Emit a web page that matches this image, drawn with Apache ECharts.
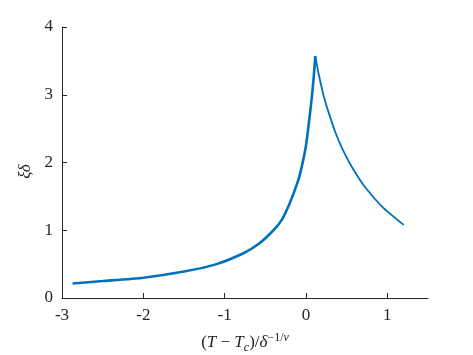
<!DOCTYPE html>
<html>
<head>
<meta charset="utf-8">
<script src="https://cdn.jsdelivr.net/npm/echarts@6/dist/echarts.min.js"></script>
<style>
html,body{margin:0;padding:0;background:#fff;}
#c{width:473px;height:355px;}
</style>
</head>
<body>
<div id="c"></div>
<script>
// Left branch (rising up to the peak)
const leftX = [-2.87, -2.5, -2.0, -1.5, -1.1, -0.77, -0.58, -0.40, -0.30, -0.20, -0.10, -0.05, 0.0, 0.045, 0.074, 0.094, 0.114];
const leftY = [0.215, 0.25, 0.30, 0.39, 0.50, 0.66, 0.80, 1.00, 1.15, 1.40, 1.72, 1.95, 2.25, 2.68, 2.99, 3.25, 3.57];
// Right branch (falling from the peak)
const rightX = [0.114, 0.155, 0.216, 0.278, 0.36, 0.44, 0.566, 0.73, 0.935, 1.20];
const rightY = [3.57, 3.31, 2.99, 2.74, 2.45, 2.22, 1.93, 1.63, 1.35, 1.08];
const xTicks = [-3, -2, -1, 0, 1];
const yTicks = [0, 1, 2, 3, 4];

const pair = (xs, ys) => xs.map((x, i) => [x, ys[i]]);
const FONT = "'Liberation Serif', 'DejaVu Serif', serif";
const AX = '#262626';
const BLUE = '#0072BD';

const chart = echarts.init(document.getElementById('c'), null, {renderer: 'canvas'});
chart.setOption({
  animation: false,
  backgroundColor: '#fff',
  textStyle: {fontFamily: FONT},
  grid: {left: 62, right: 45, top: 27, bottom: 57, containLabel: false, outerBoundsMode: 'none'},
  xAxis: {
    type: 'value', min: -3, max: 1.5, interval: 1,
    axisLine: {show: true, onZero: false, lineStyle: {color: AX, width: 1}},
    axisTick: {show: true, inside: true, length: 5, lineStyle: {color: AX}, customValues: xTicks},
    axisLabel: {color: AX, fontFamily: FONT, fontSize: 17, margin: 9, customValues: xTicks},
    splitLine: {show: false},
    name: '{n|(}{i|T}{n| − }{i|T}{sub|c}{n|)/}{i|δ}{sup|−1/}{supi|ν}',
    nameLocation: 'middle', nameGap: 34,
    nameTextStyle: {
      color: AX,
      rich: {
        n: {fontFamily: FONT, fontSize: 17, color: AX, lineHeight: 22, verticalAlign: 'middle'},
        i: {fontFamily: FONT, fontSize: 17, fontStyle: 'italic', color: AX, lineHeight: 22, verticalAlign: 'middle'},
        sub: {fontFamily: FONT, fontSize: 12, fontStyle: 'italic', color: AX, verticalAlign: 'bottom', lineHeight: 22},
        sup: {fontFamily: FONT, fontSize: 12, color: AX, verticalAlign: 'top', lineHeight: 22},
        supi: {fontFamily: FONT, fontSize: 12, fontStyle: 'italic', color: AX, verticalAlign: 'top', lineHeight: 22}
      }
    }
  },
  yAxis: {
    type: 'value', min: 0, max: 4, interval: 1,
    axisLine: {show: true, onZero: false, lineStyle: {color: AX, width: 1}},
    axisTick: {show: true, inside: true, length: 5, lineStyle: {color: AX}, customValues: yTicks},
    axisLabel: {color: AX, fontFamily: FONT, fontSize: 17, margin: 9, customValues: yTicks},
    splitLine: {show: false},
    name: 'ξδ', nameLocation: 'middle', nameGap: 28, nameRotate: 90,
    nameTextStyle: {color: AX, fontFamily: FONT, fontSize: 17, fontStyle: 'italic', padding: [0, 0, 0, -18]}
  },
  series: [
    {type: 'line', data: pair(leftX, leftY), smooth: 0.2, showSymbol: false,
     lineStyle: {color: BLUE, width: 2.6}, silent: true},
    {type: 'line', data: pair(rightX, rightY), smooth: 0.2, showSymbol: false,
     lineStyle: {color: BLUE, width: 1.8}, silent: true}
  ]
});
</script>
</body>
</html>
